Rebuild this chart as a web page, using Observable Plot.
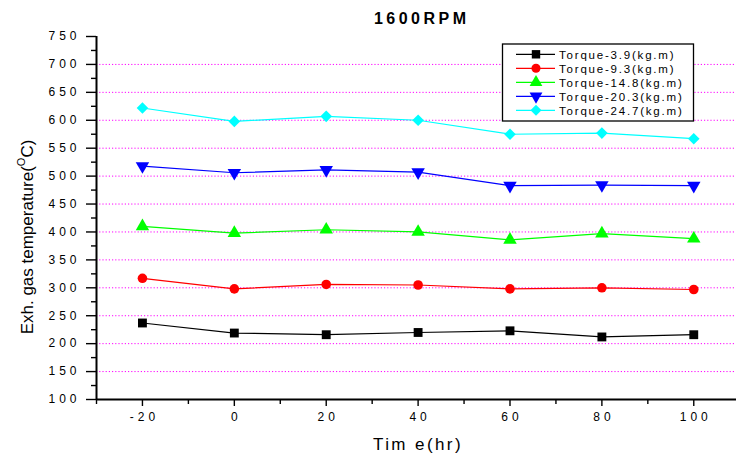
<!DOCTYPE html>
<html><head><meta charset="utf-8">
<script src="https://cdn.jsdelivr.net/npm/d3@7"></script>
<script src="https://cdn.jsdelivr.net/npm/@observablehq/plot@0.6"></script>
<style>
body{margin:0;background:#fff;}
#chart{position:relative;width:736px;height:455px;}
svg text{font-family:"Liberation Sans",Arial,sans-serif;}
</style></head><body><div id="chart"></div>
<script>
const time = [-20, 0, 20, 40, 60, 80, 100];
const seriesNames = ["Torque-3.9(kg.m)", "Torque-9.3(kg.m)", "Torque-14.8(kg.m)", "Torque-20.3(kg.m)", "Torque-24.7(kg.m)"];
const t39  = [237, 219, 216, 220, 223, 212, 216];
const t93  = [317, 298, 306, 305, 298, 300, 297];
const t148 = [410, 398, 404, 400, 386, 397, 388];
const t203 = [518, 506, 511, 507, 483, 484, 483];
const t247 = [622, 598, 607, 600, 575, 577, 567];
const colors = ["#000000", "#ff0000", "#00ff00", "#0000ff", "#00ffff"];
const symbols = ["square", "circle", "triangle", "triangle", "diamond2"];
const rotations = [0, 0, 0, 180, 0];
const yTicks = d3.range(100, 751, 50);
const yMinor = d3.range(125, 750, 50);
const xTicks = d3.range(-20, 101, 20);
const xMinor = [-30, -10, 10, 30, 50, 70, 90];
const gridVals = d3.range(150, 701, 50);
const title = "1600RPM";
const xTitle = "Tim e(hr)";

const allSeries = [t39, t93, t148, t203, t247];
const radii = [5, 4.8, 5, 5, 5.2];

const marks = [
  Plot.gridY(gridVals, {stroke: "#ff00ff", strokeOpacity: 1, strokeDasharray: "1.2,2", strokeWidth: 1}),
  Plot.axisY({ticks: yTicks, tickSize: 10, tickPadding: 6, fontSize: 12, label: null, strokeWidth: 1.4, tickFormat: d => String(d)}),
  Plot.axisY({ticks: yMinor, tickSize: 5, text: null, label: null, strokeWidth: 1.4}),
  Plot.axisX({ticks: xTicks, tickSize: 7, tickPadding: 6, fontSize: 12, label: null, strokeWidth: 1.4, tickFormat: d => String(d)}),
  Plot.axisX({ticks: xMinor, tickSize: 5, text: null, label: null, strokeWidth: 1.4}),
  Plot.ruleX([-30], {strokeWidth: 2}),
  Plot.ruleY([100], {strokeWidth: 2})
];
allSeries.forEach((vals, i) => {
  const rows = vals.map((v, j) => ({time: time[j], temp: v}));
  marks.push(Plot.line(rows, {x: "time", y: "temp", stroke: colors[i], strokeWidth: 1.2}));
  marks.push(Plot.dot(rows, {x: "time", y: "temp", symbol: symbols[i], fill: colors[i], stroke: "none", r: radii[i], rotate: rotations[i]}));
});

const plot = Plot.plot({
  width: 736, height: 455,
  marginLeft: 96, marginRight: 0, marginTop: 36, marginBottom: 56,
  x: {domain: [-30, 109.3]},
  y: {domain: [100, 750]},
  style: {fontFamily: "Liberation Sans, Arial, sans-serif", color: "#000", background: "#fff"},
  marks
});
document.getElementById("chart").appendChild(plot);

const svg = d3.select(plot);
svg.selectAll('g[aria-label="y-axis tick label"] text').attr("letter-spacing", "4px");
svg.selectAll('g[aria-label="x-axis tick label"] text').attr("letter-spacing", "4px").attr("dx", "2");

svg.append("text").attr("x", 420 + 1.75).attr("y", 24).attr("text-anchor", "middle")
  .attr("font-size", 16).attr("font-weight", "bold").attr("letter-spacing", "3.5px").text(title);

svg.append("text").attr("x", 418).attr("y", 450).attr("text-anchor", "middle")
  .attr("font-size", 17).attr("letter-spacing", "2.4px").text(xTitle);

const yt = svg.append("text").attr("transform", "translate(33,237) rotate(-90)").attr("text-anchor", "middle").attr("font-size", 17);
yt.append("tspan").text("Exh. gas temperature(");
yt.append("tspan").attr("font-size", 11).attr("dy", -8).text("O");
yt.append("tspan").attr("dy", 8).text("C)");

const lg = svg.append("g");
lg.append("rect").attr("x", 502.5).attr("y", 44).attr("width", 191).attr("height", 77)
  .attr("fill", "#fff").attr("stroke", "#000").attr("stroke-width", 1.3);
const symMap = {square: d3.symbolSquare, circle: d3.symbolCircle, triangle: d3.symbolTriangle, diamond2: d3.symbolDiamond2};
seriesNames.forEach((name, i) => {
  const y = 54.3 + i * 14;
  lg.append("line").attr("x1", 516).attr("x2", 555).attr("y1", y).attr("y2", y).attr("stroke", colors[i]).attr("stroke-width", 1.2);
  lg.append("path").attr("d", d3.symbol(symMap[symbols[i]], Math.PI * radii[i] * radii[i] * 0.9)())
    .attr("transform", `translate(536,${y}) rotate(${rotations[i]})`).attr("fill", colors[i]);
  lg.append("text").attr("x", 559).attr("y", y + 4.2).attr("text-anchor", "start").attr("font-size", 11.5).attr("letter-spacing", "1.8px").text(name);
});
</script></body></html>
